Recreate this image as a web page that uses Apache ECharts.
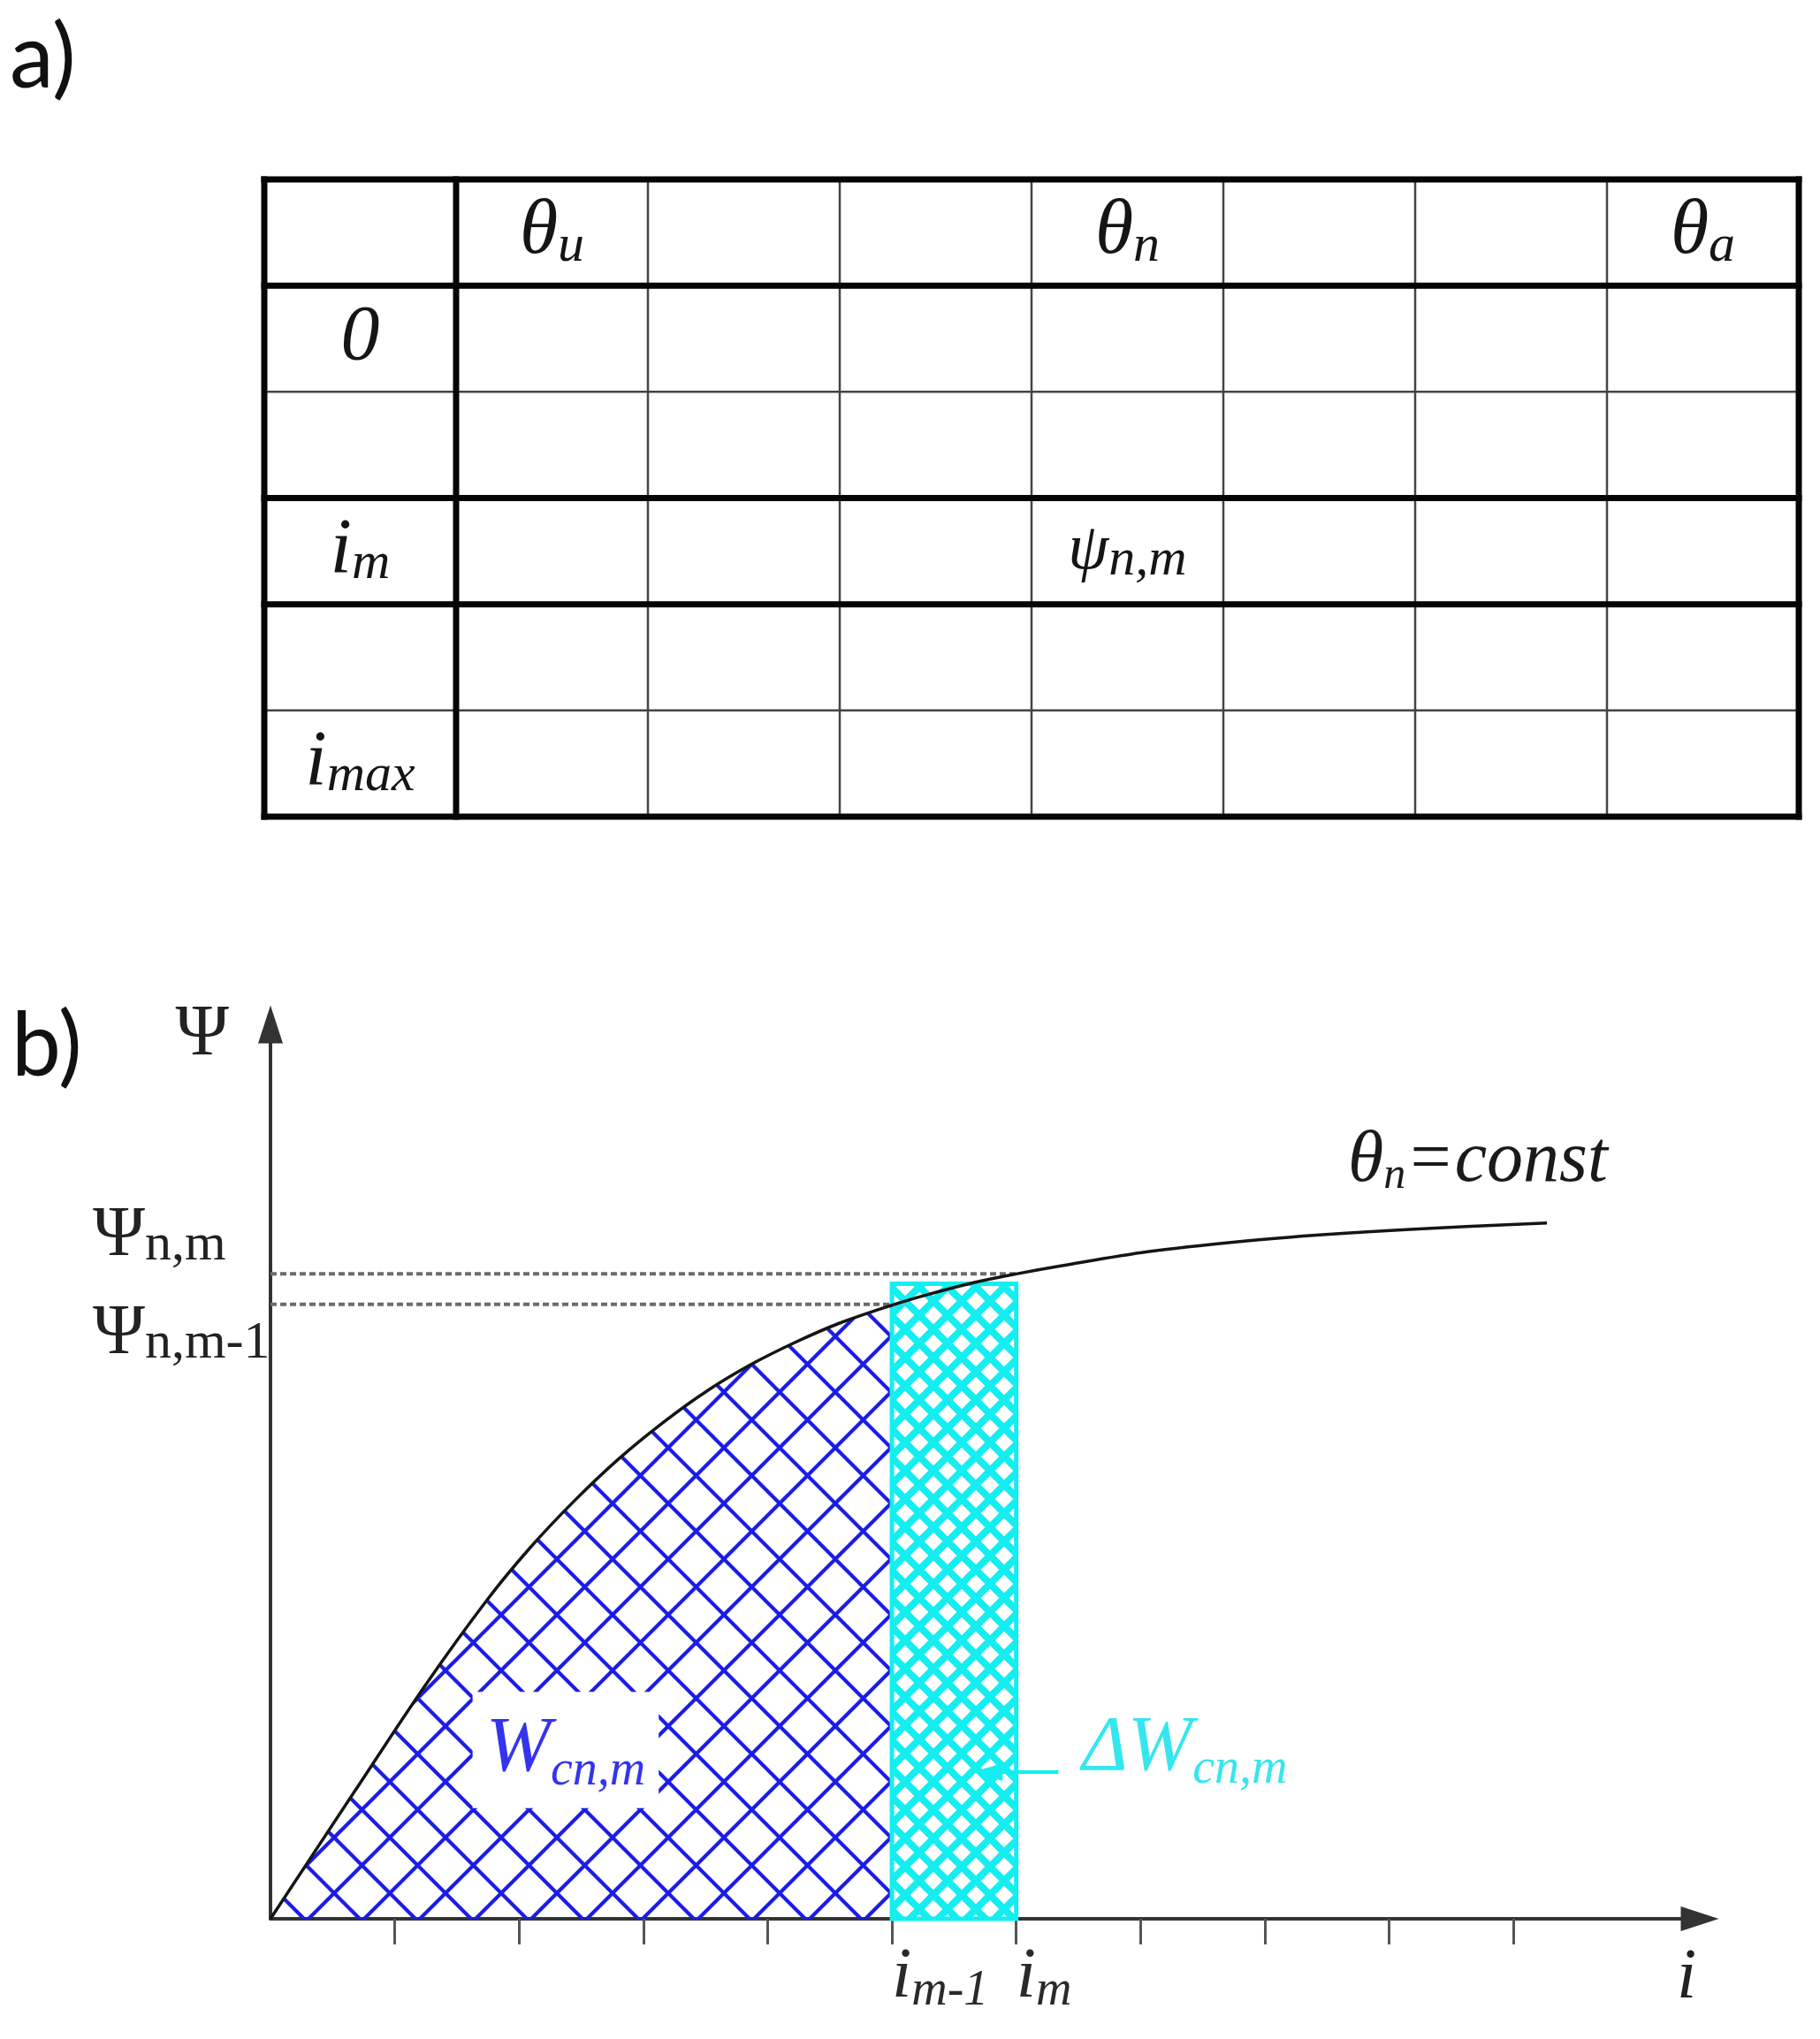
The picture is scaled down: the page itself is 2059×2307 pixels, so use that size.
<!DOCTYPE html>
<html>
<head>
<meta charset="utf-8">
<script src="https://cdn.jsdelivr.net/npm/echarts@6/dist/echarts.min.js"></script>
<style>
html,body{margin:0;padding:0;background:#ffffff;}
#chart{width:2059px;height:2307px;}
</style>
</head>
<body>
<div id="chart"></div>
<script>
// ================= DATA =================
const tableColHeadMain = ['', 'θ', '', '', 'θ', '', '', 'θ'];
const tableColHeadSub  = ['', 'u', '', '', 'n', '', '', 'a'];
const tableRowHeadMain = ['0', '', 'i', '', 'i'];
const tableRowHeadSub  = ['', '', 'm', '', 'max'];
const tableCellEntries = [{ row: 3, col: 4, main: 'ψ', sub: 'n,m' }];
const tableThickRowLines = [0, 1, 3, 4, 6];
const tableThickColLines = [0, 1, 8];
const tableCols = 8;
const tableRows = 6;

const curveI   = [0, 0.67, 1.24, 1.74, 2.09, 2.45, 2.80, 3.16, 3.51, 3.87, 4.23, 4.58, 5.00, 5.29, 5.65, 6.00, 6.36, 7.07, 7.78, 8.49, 9.20, 10.27];
const curvePsi = [0, 1.41, 2.60, 3.56, 4.15, 4.68, 5.14, 5.55, 5.90, 6.20, 6.45, 6.66, 6.86, 6.98, 7.11, 7.21, 7.30, 7.46, 7.57, 7.65, 7.71, 7.78];
const iPrev = 5;
const iCur = 6;
const psiNm = 7.21;
const psiNm1 = 6.87;
const deltaWTop = 7.10;
const xTickValues = [1, 2, 3, 4, 5, 6, 7, 8, 9, 10];
const xAxisMax = 11.5;
const yAxisMax = 10;
const annotationTexts = [
  { main: 'W',  sub: 'cn,m' },
  { main: 'ΔW', sub: 'cn,m' },
  { main: 'θ',  sub: 'n', tail: '=const' },
  { main: 'Ψ',  sub: 'n,m' },
  { main: 'Ψ',  sub: 'n,m-1' }
];

// ================= LAYOUT / STYLE =================
const SERIF = '"Liberation Serif", "Times New Roman", Times, serif';
const annotationLayout = [
  { at: [2.375, 1.887], F: 88, f: 56, d: 14, italic: true,  color: '#3434ee', bg: '#ffffff', pad: [14, 15, 14, 15], align: 'center' },
  { at: [6.53, 1.90],   F: 88, f: 56, d: 14, italic: true,  color: '#35e6ee', align: 'left' },
  { at: [8.67, 8.46],   F: 82, f: 50, d: 6,  italic: true,  color: '#1a1a1a', align: 'left' },
  { at: [-1.43, 7.63],  F: 80, f: 60, d: 2,  italic: false, color: '#222222', align: 'left' },
  { at: [-1.43, 6.53],  F: 80, f: 60, d: 2,  italic: false, color: '#222222', align: 'left' }
];
const arrowLayout = { tip: [5.77, 1.64], tail: [6.34, 1.64] };

function subRich(F, f, d, color, italic) {
  const L = Math.max(F, 2 * (d + 0.195 * f + 0.305 * F));
  const base = { fontFamily: SERIF, fontStyle: italic ? 'italic' : 'normal', fill: color, color: color };
  return {
    m: Object.assign({}, base, { fontSize: F }),
    s: Object.assign({}, base, { fontSize: f, verticalAlign: 'bottom', lineHeight: L })
  };
}
function richStr(main, sub, tail) {
  let s = '{m|' + main + '}';
  if (sub) s += '{s|' + sub + '}';
  if (tail) s += '{m|' + tail + '}';
  return s;
}
function hatch(P, w, color) {
  const c = document.createElement('canvas');
  c.width = P; c.height = P;
  const g = c.getContext('2d');
  g.strokeStyle = color; g.lineWidth = w;
  g.beginPath();
  for (let k = -1; k <= 1; k++) { g.moveTo(k * P - P, -P); g.lineTo(k * P + 2 * P, 2 * P); }
  for (let k = 0; k <= 2; k++) { g.moveTo(k * P + P, -P); g.lineTo(k * P - 2 * P, 2 * P); }
  g.stroke();
  return c;
}
const bluePattern = { image: hatch(63, 4.2, '#1c1ce8'), repeat: 'repeat' };
const cyanPattern = { image: hatch(32, 8, '#14eef0'), repeat: 'repeat' };

const tableLineItems = [];
for (let r = 0; r <= tableRows; r++) tableLineItems.push({ v: [0, r, tableCols, r], thick: tableThickRowLines.includes(r) });
for (let c = 0; c <= tableCols; c++) tableLineItems.push({ v: [c, 0, c, tableRows], thick: tableThickColLines.includes(c) });
tableLineItems.sort((a, b) => (a.thick ? 1 : 0) - (b.thick ? 1 : 0));

const tableTextItems = [];
tableColHeadMain.forEach((m, c) => { if (m) tableTextItems.push({ pos: [c + 0.5, 0.5], main: m, sub: tableColHeadSub[c], F: 88, f: 60, d: 8 }); });
tableRowHeadMain.forEach((m, r) => { if (m) tableTextItems.push({ pos: [0.5, r + 1.5], main: m, sub: tableRowHeadSub[r], F: 88, f: 60, d: 6 }); });
tableCellEntries.forEach(e => tableTextItems.push({ pos: [e.col + 0.5, e.row + 0.5], main: e.main, sub: e.sub, F: 74, f: 60, d: 6 }));

const curveData = curveI.map((x, k) => [x, curvePsi[k]]);
const blueData = curveData.filter(p => p[0] <= iPrev);

const tickRich = subRich(80, 56, 8, '#2a2a2a', true);
tickRich.i = tickRich.m;

const LABEL_FONT = 'Lato, "Noto Sans", sans-serif';
const chart = echarts.init(document.getElementById('chart'), null, { renderer: 'canvas' });
chart.setOption({
  animation: false,
  backgroundColor: '#ffffff',
  title: [
    { text: 'a)', left: 6, top: 12, textStyle: { fontFamily: LABEL_FONT, fontSize: 100, fontWeight: 'normal', color: '#111' } },
    { text: 'b)', left: 8, top: 1130, textStyle: { fontFamily: LABEL_FONT, fontSize: 100, fontWeight: 'normal', color: '#111' } }
  ],
  grid: [
    { left: 299, top: 203, width: 1736, height: 721, outerBoundsMode: 'none', containLabel: false },
    { left: 306, top: 1159, width: 1617, height: 1012, outerBoundsMode: 'none', containLabel: false }
  ],
  xAxis: [
    { gridIndex: 0, type: 'value', min: 0, max: tableCols, show: false },
    {
      gridIndex: 1, type: 'value', min: 0, max: xAxisMax,
      axisLine: { show: true, onZero: true, symbol: ['none', 'triangle'], symbolSize: [28, 43], lineStyle: { color: '#333333', width: 4 } },
      axisTick: { show: true, customValues: xTickValues, length: 29, inside: false, lineStyle: { color: '#555555', width: 3 } },
      axisLabel: {
        show: true, customValues: [iPrev, iCur], margin: 24, align: 'left',
        formatter: v => v === iPrev ? '{i|i}{s|m-1}' : (v === iCur ? '{i|i}{s|m}' : ''),
        rich: tickRich
      },
      splitLine: { show: false },
      name: 'i', nameLocation: 'end', nameGap: -15,
      nameTextStyle: { fontFamily: SERIF, fontStyle: 'italic', fontSize: 80, color: '#222', align: 'center', verticalAlign: 'top', padding: [28, 0, 0, 0] }
    }
  ],
  yAxis: [
    { gridIndex: 0, type: 'value', min: 0, max: tableRows, inverse: true, show: false },
    {
      gridIndex: 1, type: 'value', min: 0, max: yAxisMax,
      axisLine: { show: true, onZero: true, symbol: ['none', 'triangle'], symbolSize: [28, 43], lineStyle: { color: '#333333', width: 4 } },
      axisTick: { show: false }, axisLabel: { show: false }, splitLine: { show: false },
      name: 'Ψ', nameLocation: 'end', nameGap: -12,
      nameTextStyle: { fontFamily: SERIF, fontSize: 82, color: '#222', align: 'right', verticalAlign: 'middle', padding: [0, 47, 0, 0] }
    }
  ],
  series: [
    {
      type: 'custom', name: 'tableLines', xAxisIndex: 0, yAxisIndex: 0, silent: true,
      data: tableLineItems.map(l => l.v),
      renderItem: (params, api) => {
        const a = api.coord([api.value(0), api.value(1)]);
        const b = api.coord([api.value(2), api.value(3)]);
        const thick = tableLineItems[params.dataIndex].thick;
        return { type: 'line', shape: { x1: a[0], y1: a[1], x2: b[0], y2: b[1] },
          style: { stroke: thick ? '#050505' : '#444444', lineWidth: thick ? 7 : 2.5, lineCap: 'square' } };
      }
    },
    {
      type: 'custom', name: 'tableTexts', xAxisIndex: 0, yAxisIndex: 0, silent: true, z: 3,
      data: tableTextItems.map(t => t.pos),
      renderItem: (params, api) => {
        const t = tableTextItems[params.dataIndex];
        const p = api.coord([api.value(0), api.value(1)]);
        return { type: 'text', x: p[0], y: p[1],
          style: { text: richStr(t.main, t.sub), rich: subRich(t.F, t.f, t.d, '#151515', true), align: 'center', verticalAlign: 'middle', fill: '#151515' } };
      }
    },
    {
      type: 'line', name: 'Wcn', xAxisIndex: 1, yAxisIndex: 1, data: blueData, smooth: 0.35, symbol: 'none', silent: true, z: 2,
      lineStyle: { width: 0 }, areaStyle: { color: bluePattern, opacity: 1 }
    },
    {
      type: 'custom', name: 'dWcn', xAxisIndex: 1, yAxisIndex: 1, silent: true, z: 3,
      data: [[iPrev, iCur, deltaWTop]],
      renderItem: (params, api) => {
        const p0 = api.coord([api.value(0), api.value(2)]);
        const p1 = api.coord([api.value(1), 0]);
        return { type: 'rect', shape: { x: p0[0], y: p0[1], width: p1[0] - p0[0], height: p1[1] - p0[1] },
          style: { fill: cyanPattern, stroke: '#14eef0', lineWidth: 5 } };
      }
    },
    {
      type: 'line', name: 'psiNm', xAxisIndex: 1, yAxisIndex: 1, data: [[0, psiNm], [iCur, psiNm]], symbol: 'none', silent: true, z: 4,
      lineStyle: { color: '#6b6b6b', width: 4, type: [7, 4] }
    },
    {
      type: 'line', name: 'psiNm1', xAxisIndex: 1, yAxisIndex: 1, data: [[0, psiNm1], [iPrev, psiNm1]], symbol: 'none', silent: true, z: 4,
      lineStyle: { color: '#6b6b6b', width: 4, type: [7, 4] }
    },
    {
      type: 'line', name: 'curve', xAxisIndex: 1, yAxisIndex: 1, data: curveData, smooth: 0.35, symbol: 'none', silent: true, z: 5,
      lineStyle: { color: '#151515', width: 3.5 },
      markLine: {
        silent: true, symbol: ['triangle', 'none'], symbolSize: [20, 34],
        label: { show: false },
        lineStyle: { color: '#14eef0', width: 4, type: 'solid' },
        data: [[{ coord: arrowLayout.tip }, { coord: arrowLayout.tail }]]
      }
    },
    {
      type: 'custom', name: 'annotations', xAxisIndex: 1, yAxisIndex: 1, silent: true, z: 6,
      data: annotationLayout.map(a => a.at),
      renderItem: (params, api) => {
        const a = annotationLayout[params.dataIndex];
        const t = annotationTexts[params.dataIndex];
        const p = api.coord([api.value(0), api.value(1)]);
        const style = { text: richStr(t.main, t.sub, t.tail), rich: subRich(a.F, a.f, a.d, a.color, a.italic),
          align: a.align, verticalAlign: 'middle', fill: a.color };
        if (a.bg) { style.backgroundColor = a.bg; style.padding = a.pad; }
        return { type: 'text', x: p[0], y: p[1], style: style };
      }
    }
  ]
});
</script>
</body>
</html>
